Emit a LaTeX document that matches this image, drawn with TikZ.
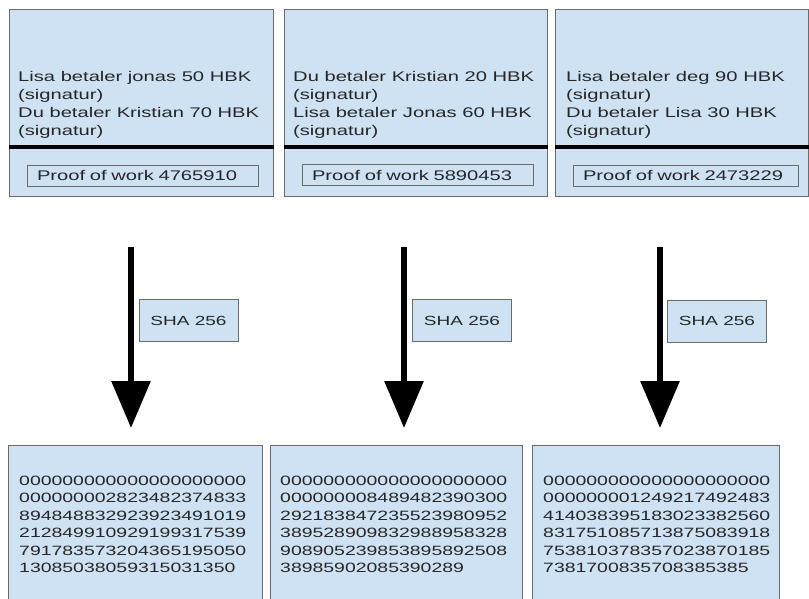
\documentclass[tikz,border=0pt]{standalone}
\usepackage{fontspec}
\setmainfont{Liberation Sans}[FakeStretch=1.44]
\usetikzlibrary{arrows.meta}
\definecolor{boxfill}{HTML}{CFE2F3}
\definecolor{boxline}{HTML}{6B6B6B}
\definecolor{txt}{HTML}{262626}
\tikzset{
  bigbox/.style={draw=boxline, line width=1pt, fill=boxfill, anchor=north west, inner sep=0pt},
  sepline/.style={line width=4.5pt, black},
  proofbox/.style={draw=boxline, line width=0.9pt, fill=boxfill, text=txt, inner ysep=0pt, inner xsep=10pt,
    text width=211pt, align=left, minimum height=21pt, font=\fontsize{14}{17}\selectfont},
  txtnode/.style={inner sep=0pt, anchor=base west, text=txt},
  toptext/.style={txtnode, font=\fontsize{14}{18}\selectfont},
  hashtext/.style={txtnode, font=\fontsize{13.5}{17.4}\selectfont},
  shabox/.style={draw=boxline, line width=0.9pt, fill=boxfill, text=txt, inner sep=0pt,
    minimum width=99pt, minimum height=42pt, font=\fontsize{13.2}{17}\selectfont},
  hasharrow/.style={line width=6pt, black, -{Triangle[width=38pt, length=47pt]}}
}
\begin{document}
\begin{tikzpicture}[x=1pt, y=-1pt]
\useasboundingbox (0,0) rectangle (809,598);
\clip (0,0) rectangle (809,598);
\fill[white] (0,0) rectangle (809,598);

% top blocks
\node[bigbox, minimum width=264pt, minimum height=187pt] (b1) at (9,9) {};
\node[bigbox, minimum width=263pt, minimum height=187pt] (b2) at (284,9) {};
\node[bigbox, minimum width=253pt, minimum height=187pt] (b3) at (555,9) {};
\foreach \b in {b1,b2,b3}{
  \draw[sepline] ([yshift=-138pt]\b.north west) -- ([yshift=-138pt]\b.north east);
}

\node[toptext] (t1) at (18,81)
  {\begin{tabular}[t]{@{}l@{}}Lisa betaler jonas 50 HBK\\(signatur)\\Du betaler Kristian 70 HBK\\(signatur)\end{tabular}};
\node[toptext] (t2) at (293,81)
  {\begin{tabular}[t]{@{}l@{}}Du betaler Kristian 20 HBK\\(signatur)\\Lisa betaler Jonas 60 HBK\\(signatur)\end{tabular}};
\node[toptext] (t3) at (566,81)
  {\begin{tabular}[t]{@{}l@{}}Lisa betaler deg 90 HBK\\(signatur)\\Du betaler Lisa 30 HBK\\(signatur)\end{tabular}};

\node[proofbox] (p1) at (142.5,175.5) {Proof of work 4765910};
\node[proofbox] (p2) at (417.5,175) {Proof of work 5890453};
\node[proofbox, text width=205pt] (p3) at (685.5,175.5) {Proof of work 2473229};

% arrows
\coordinate (s1) at (131,247); \coordinate (e1) at (131,428);
\coordinate (s2) at (404,247); \coordinate (e2) at (404,428);
\coordinate (s3) at (660,247); \coordinate (e3) at (660,428);
\draw[hasharrow] (s1) -- (e1);
\draw[hasharrow] (s2) -- (e2);
\draw[hasharrow] (s3) -- (e3);

\node[shabox] (h1) at (188.5,320.5) {SHA 256};
\node[shabox] (h2) at (462,320.5) {SHA 256};
\node[shabox] (h3) at (717,321) {SHA 256};

% bottom blocks
\node[bigbox, minimum width=254pt, minimum height=170pt] (c1) at (8,445) {};
\node[bigbox, minimum width=252pt, minimum height=170pt] (c2) at (270,445) {};
\node[bigbox, minimum width=247pt, minimum height=170pt] (c3) at (532,445) {};

\node[hashtext] (d1) at (19,485.5)
  {\begin{tabular}[t]{@{}l@{}}000000000000000000000\\000000002823482374833\\894848832923923491019\\212849910929199317539\\791783573204365195050\\13085038059315031350\end{tabular}};
\node[hashtext] (d2) at (280,485.5)
  {\begin{tabular}[t]{@{}l@{}}000000000000000000000\\000000008489482390300\\292183847235523980952\\389528909832988958328\\908905239853895892508\\38985902085390289\end{tabular}};
\node[hashtext] (d3) at (543,485.5)
  {\begin{tabular}[t]{@{}l@{}}000000000000000000000\\000000001249217492483\\414038395183023382560\\831751085713875083918\\753810378357023870185\\7381700835708385385\end{tabular}};
\end{tikzpicture}
\end{document}
